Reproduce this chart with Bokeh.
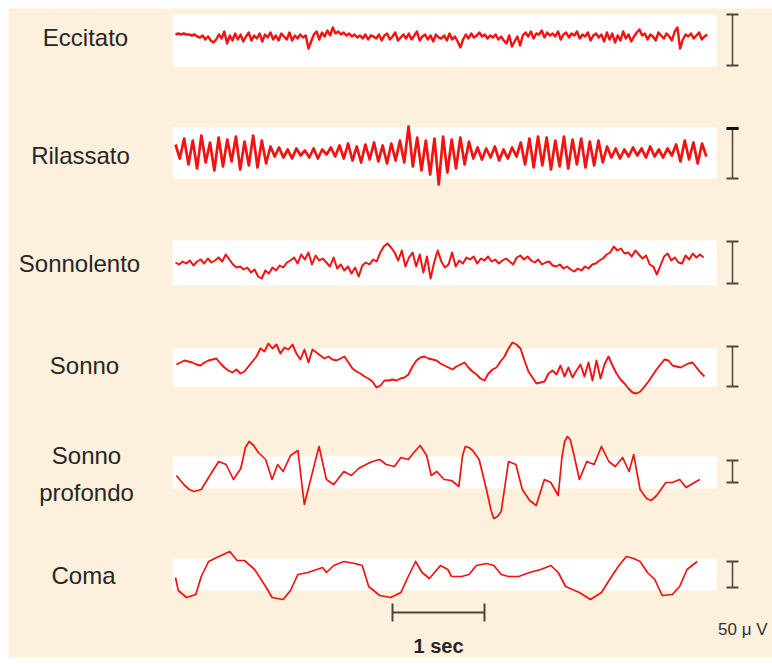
import numpy as np
from bokeh.plotting import figure
from bokeh.models import Range1d
from bokeh.core.properties import value
from bokeh.embed import file_html
from bokeh.resources import INLINE

# ---------------- data (amplitudes in display units, positive = up) ----------------
states = ["Eccitato", "Rilassato", "Sonnolento", "Sonno", "Sonno profondo", "Coma"]

eccitato = [3, 4, 3, 4, 3, 3, 2, 3, 1, 0,
            2, -2, 1, -3, -5, -2, 3, -1,
            6, -6, 2, -3,
            4, -2, 3, -4, 1, 5, -3, 2, -1, 4, -4, 3, 0, 5, -2, 2, -3, 4, 1, -2, 5, -3, 2, -1, 3, 0,
            2, -11, -4, 3,
            6, -2, 5, 1, 7, 2, 10,
            4, 6, 3, 5, 2, 4, 1, 3, 0, 2, -1, 3, -2, 2, 1,
            -1, 3, -3, 2, 4, -2, 1, 5, -3, 0, 3, -1, 4, -2, 2, 6, -3, 1, 3, -2, 2, -4, 3, 0, -1,
            2, -3, 4, -2, 1, -4, -10, -2,
            3, -1, 4, 0, 2, 5, 1, 3, -1, 2, 0, 3, -2, 1,
            -3, -6, 2, -9, -4, 1, -8,
            2, 5, 1, 6, -1, 4, 3, 7, 0, 5, 2, 4, 1, 6, -2, 3, 5, 0, 4, 2, 6, -1, 3, 1, 5, -3, 2, 4, 0,
            3, -4, 5, -2, 4, -5, 2, -3, 6, -1, 3, -4, 1, 5,
            8, 2, 4, -2, 3, 1, -3, 5,
            2, -1, 4, 1, -3, 6, 10, -11,
            -2, 3, 1, 4, -1, 2, 5, -2, 1, 3]
eccitato_span = [0.0, 5.78]

rilassato = [8, -6, 14, -12, 12, -16, 17, -10, 10, -18, 15, -14, 13, -9, 16, -17, 11, -13, 17, -15, 12, -11,
             6, -4, 5, -5, 3, -6, 4, -3, 2, -5, 4, -6, 3, -2, 5, -4,
             7, -6, 9, -8, 6, -10, 8, -7, 10, -9, 7, -11, 9, -8, 12, -10,
             26, -14, 15, -18, 12, -22, 14, -32, 16, -20, 13, -16, 15, -12, 11,
             -6, 5, -7, 4, -5, 6, -8, 3, -6, 5, -4,
             10, -12, 14, -15, 16, -13, 15, -17, 12, -14, 16, -16, 13, -12, 14, -15, 11, -13, 12, -10,
             6, -5, 4, -6, 3, -4, 5, -3, 4, -5, 6, -4, 3, -5, 4, -3,
             8, -9, 12, -7, 10, -11, 9, -4]
rilassato_span = [0.0, 5.77]

sonnolento = [0, -2, 1, -1, 2, -3, 1, 3, -1, 4, 0, 2, 5, 1,
              8, 3, -2, -5, -4, -7,
              -5, -10, -7, -14, -16,
              -8, -11, -5, -8, -3, -5, 0,
              2, 5, -1, 8, 3, 10, -2,
              7, 2, 4, 0, -4, 5, -6, -2,
              -8, -4, -11, -5, -14, -3,
              0, -2, 3, 1, 10,
              16, 19, 15, 10,
              2, 12, -4, 5, 10, -4, 8, -10, 6, -16, 0, 12,
              1, -5, -2, 10,
              -4, 2, -1, 5, 3, 6, -1,
              4, 2, 6, 1, 3, -1, 2, 4, 1, -2, 5,
              7, 3, 6, 2, 0, 3, -2, 0, 1, -3,
              -4, -2, -6, -4, -7, -9, -6, -8,
              -4, -6, -2, -1, 2, 4,
              8, 10, 16, 12, 14,
              9, 10, 6, 12, 8,
              4, 7, -2, -4, -12, -3,
              6, 9, 2, 5, 0, -1, 7, 3, 9,
              5, 8, 5]
sonnolento_span = [0.0, 5.74]

sonno = [1, 3, 5, 4, 3, 1, 0, 3, 5, 6, 7, 2, -2, -5, -7, -4, -8, -6, -1, 4,
         9, 17, 14, 22, 17, 21, 12, 18, 16, 21, 12, 6, 16, 3, 16, 13, 10, 7, 9, 6,
         5, 7, 9, 3, -3, -6, -8, -11, -13, -16, -22, -20, -15, -15, -14, -15, -13, -12, -9, -1,
         5, 8, 9, 7, 6, 5, 2, 0, -2, -4, -1, 1, 3, -2, -6, -9, -13, -15, -8, -4,
         -2, 4, 9, 17, 23, 21, 17, 5, -6, -12, -18, -17, -16, -8, -5, -9, 0, -11, -2, -12,
         -5, 1, -11, 3, -15, 5, -13, 1, 9, 0, -8, -14, -18, -23, -27, -28, -26, -21, -16, -10,
         -4, 1, 6, 5, 0, -1, -2, 0, 2, 3, -2, -7, -11]
sonno_span = [0.01, 5.75]

profondo_t = [0.01, 0.09, 0.15, 0.20, 0.28, 0.40, 0.47, 0.55, 0.63, 0.71, 0.76, 0.80, 0.85, 0.90, 0.98,
              1.05, 1.11, 1.17, 1.25, 1.33, 1.40, 1.48, 1.56, 1.64, 1.72, 1.83, 1.91, 1.99, 2.07, 2.14,
              2.22, 2.29, 2.38, 2.45, 2.53, 2.61, 2.66, 2.73, 2.78, 2.84, 2.92, 3.00, 3.08, 3.12, 3.15,
              3.19, 3.23, 3.30, 3.38, 3.43, 3.46, 3.50, 3.54, 3.62, 3.70, 3.77, 3.85, 3.92, 4.01, 4.08,
              4.16, 4.20, 4.23, 4.26, 4.29, 4.32, 4.39, 4.47, 4.55, 4.63, 4.71, 4.78, 4.86, 4.93, 4.98,
              5.05, 5.12, 5.17, 5.23, 5.33, 5.40, 5.48, 5.55, 5.64, 5.70]
profondo_v = [0, -9, -14, -16, -14, 4, 14, 11, -4, 7, 28, 34, 30, 23, 16,
              -4, 11, 4, 20, 25, -29, 0, 29, -4, -9, 4, 0, 7, 11, 14,
              16, 11, 9, 18, 16, 25, 30, 20, 0, 4, -4, -5, -11, 20, 29,
              28, 25, 16, -14, -35, -43, -41, -36, 14, 11, -14, -25, -30, -4, -7,
              -20, 18, 34, 39, 36, 25, -4, 14, 11, 29, 14, 9, 18, 4, 21,
              -14, -23, -25, -20, -7, -7, -4, -12, -7, -4]

coma_t = [0.00, 0.03, 0.12, 0.22, 0.28, 0.36, 0.47, 0.59, 0.67, 0.75, 0.86, 0.98, 1.05, 1.17, 1.25,
          1.33, 1.44, 1.60, 1.64, 1.72, 1.83, 1.95, 2.03, 2.10, 2.22, 2.34, 2.45, 2.53, 2.61, 2.68,
          2.76, 2.88, 2.96, 3.00, 3.11, 3.19, 3.27, 3.38, 3.46, 3.54, 3.62, 3.73, 3.85, 3.97, 4.08,
          4.16, 4.24, 4.39, 4.51, 4.63, 4.74, 4.82, 4.90, 4.98, 5.05, 5.13, 5.21, 5.29, 5.40, 5.48,
          5.56, 5.67]
coma_v = [-2, -15, -22, -19, -1, 14, 19, 24, 15, 15, 6, -11, -22, -24, -15,
          1, 3, 8, 3, 10, 14, 12, 10, -11, -20, -22, -17, -1, 14, 3,
          -3, 10, 6, -1, -1, 1, 10, 12, 10, 1, -1, -1, 3, 6, 10,
          3, -11, -17, -24, -17, -1, 10, 19, 17, 14, 3, -4, -20, -19, -11,
          6, 14]

scale_uv = 50                           # calibration bar value, µV
scale_len = [51, 50, 42, 40, 22, 26]    # display units equal to 50 µV in each row
time_bar_s = 1.0                        # time calibration, seconds

# ---------------- layout ----------------
W, H = 772, 664
PX_PER_S = 92.0
X0 = 175.0


def sx(px):
    return (px - X0) / PX_PER_S


row_center = [37, 152, 262, 365, 475, 575]
band = [(14, 66), (127, 178), (240, 285), (348, 386), (456, 488), (558, 590)]
bar_center = [39.5, 153, 262, 366, 471, 574]

RED = "#f21212"
INK = "#4a463c"

p = figure(width=W, height=H, x_range=Range1d(sx(0), sx(W)), y_range=Range1d(H, 0),
           output_backend="svg", toolbar_location=None,
           x_axis_location=None, y_axis_location=None, min_border=0)
p.grid.visible = False
p.outline_line_color = None
p.background_fill_color = "white"
p.border_fill_color = "white"

# cream panel
p.quad(left=[sx(8)], right=[sx(W)], top=[8], bottom=[657], fill_color="#fdf0dc", line_color=None)
# white bands behind traces
p.quad(left=[sx(172)] * 6, right=[sx(716)] * 6, top=[b[0] for b in band], bottom=[b[1] for b in band],
       fill_color="white", line_color=None)

# traces
uniform = [(eccitato, eccitato_span, 2.4), (rilassato, rilassato_span, 2.7),
           (sonnolento, sonnolento_span, 2.0), (sonno, sonno_span, 1.9)]
for k, (vals, span, lw) in enumerate(uniform):
    t = np.linspace(span[0], span[1], len(vals))
    y = row_center[k] - np.array(vals, dtype=float)
    p.line(t, y, line_color=RED, line_width=lw, line_join="round")

p.line(profondo_t, row_center[4] - np.array(profondo_v, dtype=float), line_color=RED, line_width=1.7,
       line_join="round")
p.line(coma_t, row_center[5] - np.array(coma_v, dtype=float), line_color=RED, line_width=1.7,
       line_join="round")

# amplitude calibration bars
bx = sx(732)
cap = 6 / PX_PER_S
y0s = [c - L / 2 for c, L in zip(bar_center, scale_len)]
y1s = [c + L / 2 for c, L in zip(bar_center, scale_len)]
p.segment(x0=[bx] * 6, x1=[bx] * 6, y0=y0s, y1=y1s, line_color=INK, line_width=1.5)
p.segment(x0=[bx - cap] * 12, x1=[bx + cap] * 12, y0=y0s + y1s, y1=y0s + y1s, line_color=INK, line_width=2)
# darker top cap on second row
p.segment(x0=[bx - cap], x1=[bx + cap], y0=[y0s[1]], y1=[y0s[1]], line_color="#111111", line_width=3)

# time calibration bar
tb0 = sx(392)
p.segment(x0=[tb0], x1=[tb0 + time_bar_s], y0=[612], y1=[612], line_color=INK, line_width=2)
p.segment(x0=[tb0, tb0 + time_bar_s], x1=[tb0, tb0 + time_bar_s], y0=[603, 603], y1=[621, 621],
          line_color=INK, line_width=2)

FONT = value("Liberation Sans")
label_x = [85, 80, 79, 84, 86, 86, 83]
label_y = [37, 155, 263, 365, 455, 492, 575]
label_txt = ["Eccitato", "Rilassato", "Sonnolento", "Sonno", "Sonno", "profondo", "Coma"]
p.text(x=[sx(v) for v in label_x], y=label_y, text=label_txt, text_align="center", text_baseline="middle",
       text_font=FONT, text_font_size=value("24px"), text_color="#262626")

p.text(x=[tb0 + time_bar_s / 2], y=[645], text=["%d sec" % time_bar_s], text_align="center",
       text_baseline="middle", text_font=FONT, text_font_size=value("20px"), text_font_style="bold",
       text_color="#262626")
p.text(x=[sx(767)], y=[629], text=["%d μ V" % scale_uv], text_align="right", text_baseline="middle",
       text_font=FONT, text_font_size=value("17px"), text_color="#333333")

open("out.html", "w").write(file_html(p, INLINE))
